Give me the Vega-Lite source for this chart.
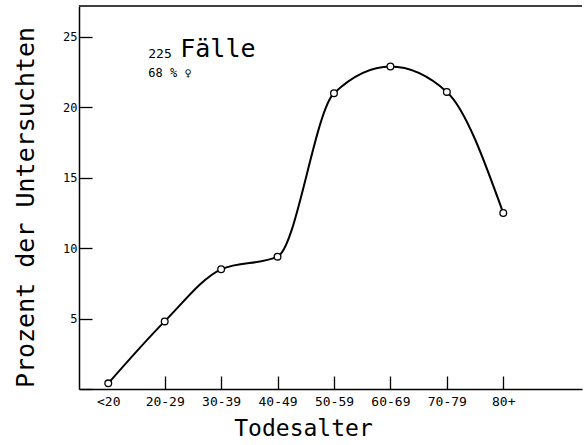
{
  "$schema": "https://vega.github.io/schema/vega-lite/v6.json",
  "width": 503,
  "height": 383,
  "autosize": {"type": "none"},
  "padding": {"left": 79, "top": 6, "right": 3, "bottom": 56},
  "background": "white",
  "config": {"view": {"stroke": null}, "font": "DejaVu Sans Mono"},
  "datasets": {
    "kurve": [
      {"Todesalter": "<20", "Prozent": 0.4},
      {"Todesalter": "20-29", "Prozent": 4.8},
      {"Todesalter": "30-39", "Prozent": 8.5},
      {"Todesalter": "40-49", "Prozent": 9.4},
      {"Todesalter": "50-59", "Prozent": 21.0},
      {"Todesalter": "60-69", "Prozent": 22.9},
      {"Todesalter": "70-79", "Prozent": 21.1},
      {"Todesalter": "80+", "Prozent": 12.5}
    ]
  },
  "layer": [
    {
      "data": {"name": "kurve"},
      "mark": {"type": "line", "interpolate": "monotone", "color": "black", "strokeWidth": 2},
      "encoding": {
        "x": {
          "field": "Todesalter", "type": "ordinal",
          "scale": {"type": "point", "domain": ["<20", "20-29", "30-39", "40-49", "50-59", "60-69", "70-79", "80+"], "padding": 0.957, "align": 0.271},
          "axis": {
            "title": "Todesalter",
            "titleFontSize": 23, "titleFontWeight": "normal", "titleColor": "black",
            "titleX": 224, "titleY": 46, "titleBaseline": "alphabetic", "titleAlign": "center",
            "labelAngle": 0, "labelFontSize": 13, "labelColor": "black",
            "labelPadding": 19, "labelExpr": "datum.value == '80+' ? '80+' : datum.label",
            "domainColor": "black", "domainWidth": 1.5,
            "tickColor": "black", "tickWidth": 1.3, "tickSize": -13,
            "tickOpacity": {"condition": {"test": "datum.value === '<20'", "value": 0}, "value": 1},
            "grid": false
          }
        },
        "y": {
          "field": "Prozent", "type": "quantitative",
          "scale": {"domain": [0, 27.2], "nice": false},
          "axis": {
            "title": "Prozent der Untersuchten",
            "titleFontSize": 25, "titleFontWeight": "normal", "titleColor": "black",
            "titleX": -46, "titleY": 201, "titleBaseline": "alphabetic", "titleAlign": "center", "titleAngle": -90,
            "values": [0, 5, 10, 15, 20, 25],
            "labelExpr": "datum.value == 0 ? '' : datum.label",
            "labelFontSize": 12, "labelColor": "black", "labelPadding": 15,
            "domainColor": "black", "domainWidth": 1.5,
            "tickColor": "black", "tickWidth": 1.3, "tickSize": -13,
            "grid": false
          }
        }
      }
    },
    {
      "data": {"name": "kurve"},
      "mark": {"type": "point", "shape": "circle", "filled": true, "fill": "white", "stroke": "black", "strokeWidth": 1.3, "size": 45, "opacity": 1},
      "encoding": {
        "x": {"field": "Todesalter", "type": "ordinal"},
        "y": {"field": "Prozent", "type": "quantitative"}
      }
    },
    {
      "data": {"values": [{"oben": 27.2}]},
      "mark": {"type": "rule", "color": "black", "strokeWidth": 1.5},
      "encoding": {"y": {"field": "oben", "type": "quantitative"}}
    },
    {
      "data": {"values": [{"Todesalter": "<20", "Prozent": 23.5, "Text": "225"}]},
      "mark": {"type": "text", "align": "left", "baseline": "alphabetic", "dx": 40, "fontSize": 13, "color": "black"},
      "encoding": {
        "x": {"field": "Todesalter", "type": "ordinal"},
        "y": {"field": "Prozent", "type": "quantitative"},
        "text": {"field": "Text"}
      }
    },
    {
      "data": {"values": [{"Todesalter": "<20", "Prozent": 23.6, "Text": "Fälle"}]},
      "mark": {"type": "text", "align": "left", "baseline": "alphabetic", "dx": 72, "fontSize": 25, "color": "black"},
      "encoding": {
        "x": {"field": "Todesalter", "type": "ordinal"},
        "y": {"field": "Prozent", "type": "quantitative"},
        "text": {"field": "Text"}
      }
    },
    {
      "data": {"values": [{"Todesalter": "<20", "Prozent": 22.15, "Text": "68 % ♀"}]},
      "mark": {"type": "text", "align": "left", "baseline": "alphabetic", "dx": 40, "fontSize": 12, "color": "black"},
      "encoding": {
        "x": {"field": "Todesalter", "type": "ordinal"},
        "y": {"field": "Prozent", "type": "quantitative"},
        "text": {"field": "Text"}
      }
    }
  ]
}
